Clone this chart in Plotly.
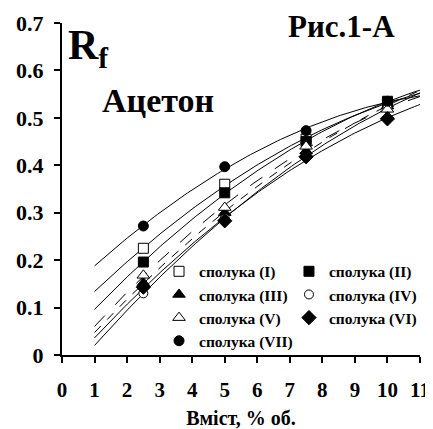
import numpy as np
import plotly.graph_objects as go

# ---- data ----
x_vals = [2.5, 5.0, 7.5, 10.0]
series_names = ["сполука (I)", "сполука (II)", "сполука (III)", "сполука (IV)",
                "сполука (V)", "сполука (VI)", "сполука (VII)"]
rf_I = [0.225, 0.360, 0.455, 0.532]
rf_II = [0.196, 0.342, 0.450, 0.535]
rf_III = [0.152, 0.300, 0.430, 0.525]
rf_IV = [0.130, 0.288, 0.420, 0.520]
rf_V = [0.168, 0.311, 0.440, 0.518]
rf_VI = [0.143, 0.283, 0.418, 0.498]
rf_VII = [0.272, 0.397, 0.473, 0.535]
x_tickvals = list(range(0, 12))
y_tickvals = [0, 0.1, 0.2, 0.3, 0.4, 0.5, 0.6, 0.7]
y_ticktext = ["0", "0.1", "0.2", "0.3", "0.4", "0.5", "0.6", "0.7"]
trend_range = [1, 11]

all_series = [rf_I, rf_II, rf_III, rf_IV, rf_V, rf_VI, rf_VII]

# ---- styles ----
FONT = "Liberation Serif, Times New Roman, serif"
styles = [
    dict(symbol="square", fill="white", size=10, dash="solid", legend="legend"),
    dict(symbol="square", fill="black", size=10, dash="solid", legend="legend2"),
    dict(symbol="triangle-up", fill="black", size=11, dash="dash", legend="legend"),
    dict(symbol="circle", fill="white", size=9, dash="solid", legend="legend2"),
    dict(symbol="triangle-up", fill="white", size=11, dash="longdash", legend="legend"),
    dict(symbol="diamond", fill="black", size=11, dash="solid", legend="legend2"),
    dict(symbol="circle", fill="black", size=10, dash="solid", legend="legend"),
]

fig = go.Figure()

# trend lines (2nd-order polynomial fit of each series)
xt = np.linspace(trend_range[0], trend_range[1], 120)
for ys, st in zip(all_series, styles):
    coef = np.polyfit(x_vals, ys, 2)
    fig.add_trace(go.Scatter(x=xt, y=np.polyval(coef, xt), mode="lines",
                             line=dict(color="black", width=1, dash=st["dash"]),
                             showlegend=False, hoverinfo="skip"))

# markers
for name, ys, st in zip(series_names, all_series, styles):
    fig.add_trace(go.Scatter(
        x=x_vals, y=ys, mode="markers", name=name, legend=st["legend"],
        marker=dict(symbol=st["symbol"], size=st["size"], color=st["fill"],
                    line=dict(color="black", width=1))))

# the page places the figure 8px in from the top-left corner
fig.update_layout(
    width=425, height=421,
    margin=dict(l=54, r=13, t=15, b=74, autoexpand=False),
    paper_bgcolor="white", plot_bgcolor="white",
    font=dict(family=FONT, color="black"),
    xaxis=dict(range=[0, 11], tickvals=x_tickvals, showgrid=False, zeroline=False,
               automargin=False,
               showline=True, linecolor="black", linewidth=2,
               ticks="outside", ticklen=6, tickwidth=2, tickcolor="black",
               ticklabelstandoff=9,
               tickfont=dict(family=FONT, size=21, weight="bold"),
               title=dict(text="Вміст, % об.", standoff=10,
                          font=dict(family=FONT, size=20, weight="bold"))),
    yaxis=dict(range=[0, 0.7], tickvals=y_tickvals, ticktext=y_ticktext,
               showgrid=False, zeroline=False, automargin=False,
               showline=True, linecolor="black", linewidth=2,
               ticks="outside", ticklen=6, tickwidth=2, tickcolor="black",
               ticklabelstandoff=6,
               tickfont=dict(family=FONT, size=22, weight="bold")),
    legend=dict(x=0.271, y=0.302, xanchor="left", yanchor="top",
                bgcolor="rgba(0,0,0,0)", tracegroupgap=0,
                font=dict(family=FONT, size=15.5, weight="bold")),
    legend2=dict(x=0.634, y=0.302, xanchor="left", yanchor="top",
                 bgcolor="rgba(0,0,0,0)", tracegroupgap=0,
                 font=dict(family=FONT, size=15.5, weight="bold")),
    annotations=[
        dict(text="R<sub>f</sub>", xref="paper", yref="paper", x=0.01, y=1.01,
             xanchor="left", yanchor="top", showarrow=False,
             font=dict(family=FONT, size=42, weight="bold")),
        dict(text="Рис.1-А", xref="paper", yref="paper", x=0.78, y=0.99,
             xanchor="center", yanchor="middle", showarrow=False,
             font=dict(family=FONT, size=31, weight="bold")),
        dict(text="Ацетон", xref="paper", yref="paper", x=0.268, y=0.768,
             xanchor="center", yanchor="middle", showarrow=False,
             font=dict(family=FONT, size=34, weight="bold")),
    ],
)

fig.write_html("out.html")
